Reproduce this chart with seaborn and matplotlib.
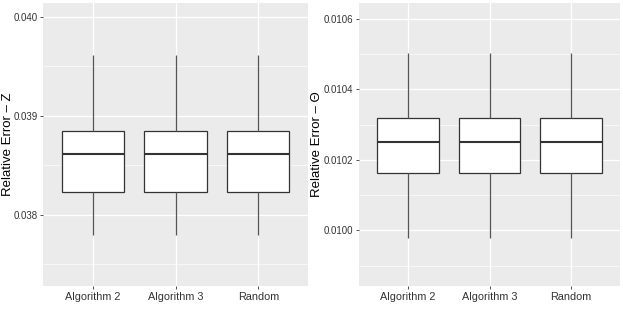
import numpy as np
import pandas as pd
import matplotlib
matplotlib.use("Agg")
import matplotlib.pyplot as plt
import seaborn as sns
from matplotlib.ticker import MultipleLocator, FormatStrFormatter

sns.set_theme(style="darkgrid")
plt.rcParams['font.family'] = ['Liberation Sans', 'DejaVu Sans']

categories = ["Algorithm 2", "Algorithm 3", "Random"]
# five-number summaries: low whisker, Q1, median, Q3, high whisker
z_values = [0.037795, 0.038235, 0.038619, 0.038842, 0.039616]
theta_values = [0.009979, 0.0101631, 0.0102519, 0.0103189, 0.0105035]

z_ticks = [0.038, 0.039, 0.040]
theta_ticks = [0.0100, 0.0102, 0.0104, 0.0106]


def make_frame(values):
    rows = []
    for cat in categories:
        for v in values:
            rows.append({"method": cat, "value": v})
    return pd.DataFrame(rows)


def style_panel(ax, ylabel, ylim, ticks, minor, fmt, label_x):
    ax.set_facecolor("#EBEBEB")
    ax.set_ylim(*ylim)
    ax.set_yticks(ticks)
    ax.yaxis.set_minor_locator(MultipleLocator(minor))
    ax.yaxis.set_major_formatter(FormatStrFormatter(fmt))
    ax.grid(True, which="major", color="white", linewidth=0.9)
    ax.grid(True, which="minor", axis="y", color="white", linewidth=0.45)
    ax.set_axisbelow(True)
    for s in ax.spines.values():
        s.set_visible(False)
    ax.tick_params(axis="both", which="major", length=2.5, width=0.6,
                   color="#333333", labelcolor="#333333", pad=1.5,
                   left=True, bottom=True)
    ax.tick_params(axis="y", which="major", labelsize=7)
    ax.tick_params(axis="x", which="major", labelsize=7.8)
    ax.tick_params(axis="y", which="minor", length=0)
    ax.set_xlabel("")
    ax.set_ylabel(ylabel, fontsize=9.5, color="black")
    ax.yaxis.set_label_coords(label_x, 0.5)


fig = plt.figure(figsize=(6.23, 3.12), dpi=100)
ax1 = fig.add_axes([43 / 623, 26 / 312, 265 / 623, 283 / 312])
ax2 = fig.add_axes([359 / 623, 26 / 312, 261 / 623, 283 / 312])

box_kw = dict(x="method", y="value", width=0.75, whis=(0, 100),
              color="white", linecolor="#333333", linewidth=0.9,
              fliersize=0, medianprops=dict(linewidth=1.5, color="#333333"),
              whiskerprops=dict(color="#555555"), capprops=dict(visible=False))

sns.boxplot(data=make_frame(z_values), ax=ax1, **box_kw)
sns.boxplot(data=make_frame(theta_values), ax=ax2, **box_kw)

style_panel(ax1, "Relative Error – Z", (0.03728, 0.04014), z_ticks, 0.0005, "%.3f", -0.108)
style_panel(ax2, "Relative Error – Θ", (0.009842, 0.010645), theta_ticks, 0.0001, "%.4f", -0.138)

for ax in (ax1, ax2):
    ax.set_xlim(-0.6, 2.6)

fig.savefig("out.png", dpi=100)
